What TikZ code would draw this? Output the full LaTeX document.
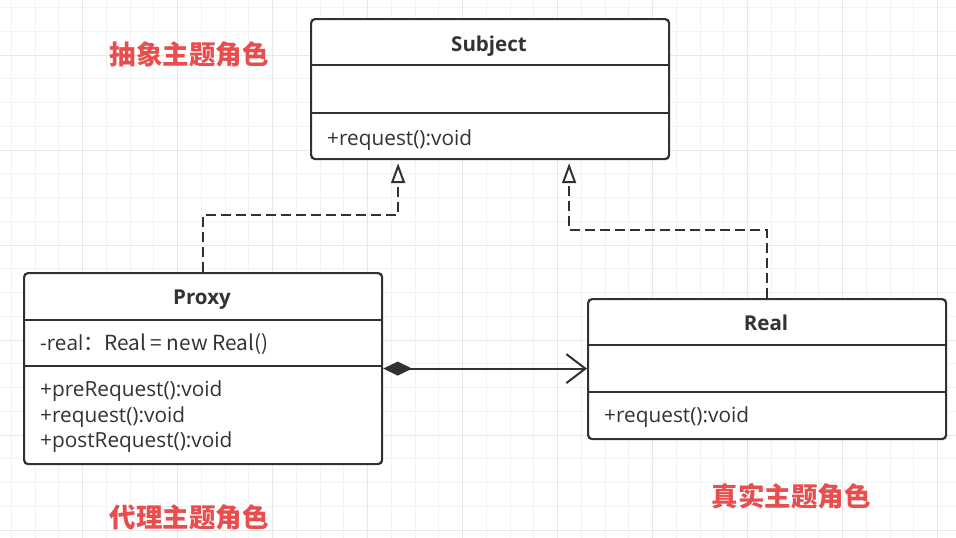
\documentclass[tikz,border=0pt]{standalone}
\usepackage{fontspec}
\setmainfont{Open Sans}
\newfontfamily\cjk{Noto Sans CJK SC}
\usetikzlibrary{arrows.meta}
\definecolor{LineGray}{RGB}{46,50,54}
\definecolor{TextGray}{RGB}{51,51,51}
\definecolor{RoleRed}{RGB}{232,78,78}
\definecolor{GridMinor}{RGB}{243,243,243}
\definecolor{GridMajor}{RGB}{232,232,232}

\begin{document}
\begin{tikzpicture}[x=1pt,y=-1pt,
  cls/.style={draw=LineGray,line width=2.2pt,rounded corners=4pt,fill=white,minimum width=358pt,minimum height=140pt,inner sep=0pt,anchor=north west},
  sep/.style={draw=LineGray,line width=2pt},
  clsname/.style={font=\fontsize{20.5}{24}\selectfont\bfseries,text=TextGray,anchor=base},
  member/.style={font=\fontsize{20.8}{24}\selectfont,text=TextGray,anchor=base west,inner sep=0pt},
  role/.style={font=\cjk\bfseries\fontsize{26.5}{30}\selectfont,text=RoleRed},
  realize/.style={draw=LineGray,line width=2pt,dash pattern=on 10pt off 5pt,-{Triangle[open,length=20pt,width=14pt,fill=white]}},
  compose/.style={draw=LineGray,line width=2pt,{Diamond[length=29pt,width=14pt]}-{Straight Barb[length=19pt,width=29pt]}}]
\useasboundingbox (0,0) rectangle (956,538);
\fill[white] (0,0) rectangle (956,538);
% grid
\foreach \i in {0,...,40} \draw[GridMinor,line width=1pt] (11.45+23.75*\i,0) -- ++(0,538);
\foreach \j in {0,...,22} \draw[GridMinor,line width=1pt] (0,7.5+23.75*\j) -- ++(956,0);
\foreach \i in {0,...,9} \draw[GridMajor,line width=1pt] (82.7+95*\i,0) -- ++(0,538);
\foreach \j in {0,...,5} \draw[GridMajor,line width=1pt] (0,55+95*\j) -- ++(956,0);

% classes
\node[cls] (subject) at (310,18) {};
\draw[sep] ([yshift=-47pt]subject.north west) -- ([yshift=-47pt]subject.north east);
\draw[sep] ([yshift=-95pt]subject.north west) -- ([yshift=-95pt]subject.north east);
\node[clsname] (subjectname) at (489,51) {Subject};
\node[member] (subjectreq) at (327,145) {+request():void};

\node[cls,minimum height=191pt] (proxy) at (23,272) {};
\draw[sep] ([yshift=-48pt]proxy.north west) -- ([yshift=-48pt]proxy.north east);
\draw[sep] ([yshift=-94pt]proxy.north west) -- ([yshift=-94pt]proxy.north east);
\node[clsname] (proxyname) at (202,304) {Proxy};
\node[member] (proxyreal) at (40,350) {-real\cjk{：}Real = new Real()};
\node[member] (proxypre) at (40,396) {+preRequest():void};
\node[member] (proxyreq) at (40,422) {+request():void};
\node[member] (proxypost) at (40,447) {+postRequest():void};

\node[cls] (real) at (587,298) {};
\draw[sep] ([yshift=-47pt]real.north west) -- ([yshift=-47pt]real.north east);
\draw[sep] ([yshift=-94pt]real.north west) -- ([yshift=-94pt]real.north east);
\node[clsname] (realname) at (766,330) {Real};
\node[member] (realreq) at (604,422) {+request():void};

% relations
\draw[realize] (proxy.north) -- ++(0,-57) -| ([xshift=-92pt,yshift=-3pt]subject.south);
\draw[realize] (real.north) -- ++(0,-68) -| ([xshift=79pt,yshift=-3pt]subject.south);
\draw[compose] (proxy.east) -- (proxy.east -| real.west);

% roles
\node[role] (abstractrole) at (189,54) {抽象主题角色};
\node[role] (proxyrole) at (189,517) {代理主题角色};
\node[role] (realrole) at (791,496) {真实主题角色};
\end{tikzpicture}
\end{document}
